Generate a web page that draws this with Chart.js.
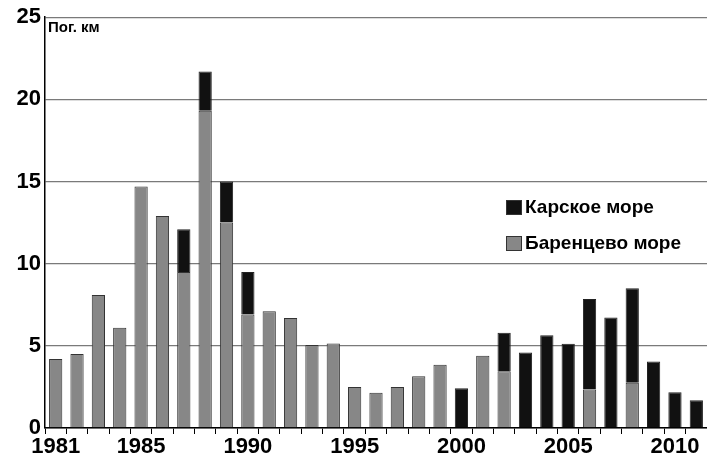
<!DOCTYPE html>
<html>
<head>
<meta charset="utf-8">
<script src="https://cdn.jsdelivr.net/npm/chart.js@4"></script>
<style>
  html, body { margin: 0; padding: 0; background: #fff; }
  #wrap { width: 707px; height: 455px; }
</style>
</head>
<body>
<div id="wrap"><canvas id="seaChart"></canvas></div>
<script>
const years = [];
for (let y = 1981; y <= 2011; y++) years.push(String(y));

const shownYears = ["1981", "1985", "1990", "1995", "2000", "2005", "2010"];

const barentsSea = [4.2, 4.5, 8.1, 6.1, 14.7, 12.9, 9.5, 19.3, 12.5, 6.9,
  7.1, 6.7, 5.05, 5.15, 2.5, 2.15, 2.5, 3.15, 3.85, null,
  4.4, 3.45, null, null, null, 2.35, null, 2.75, null, null, null];

const karaSea = [null, null, null, null, null, null, 2.6, 2.4, 2.5, 2.6,
  null, null, null, null, null, null, null, null, null, 2.42,
  null, 2.35, 4.6, 5.65, 5.12, 5.5, 6.73, 5.75, 4.05, 2.17, 1.69];

const yTicks = [0, 5, 10, 15, 20, 25];

const font = "'Liberation Sans', Arial, sans-serif";

// legend drawn by hand so it can sit inside the plot
const legendBox = {
  id: "legendBox",
  afterDraw(chart) {
    const ctx = chart.ctx;
    const items = [chart.data.datasets[1], chart.data.datasets[0]];
    ctx.save();
    ctx.fillStyle = "#fff";
    ctx.fillRect(500, 187, 206, 74);
    ctx.font = "bold 19px " + font;
    ctx.textBaseline = "middle";
    items.forEach((ds, i) => {
      const yy = 207 + i * 36;
      ctx.fillStyle = ds.backgroundColor;
      ctx.strokeStyle = "#333";
      ctx.lineWidth = 1;
      ctx.fillRect(506, yy - 7, 16, 15);
      ctx.strokeRect(506.5, yy - 6.5, 15, 14);
      ctx.fillStyle = "#000";
      ctx.fillText(ds.label, 525, yy + 1);
    });
    ctx.restore();
  }
};

// "Пог. км" unit label in the corner of the plot
const unitLabel = {
  id: "unitLabel",
  afterDraw(chart) {
    const ctx = chart.ctx;
    ctx.save();
    ctx.font = "bold 15px " + font;
    ctx.fillStyle = "#000";
    ctx.textBaseline = "middle";
    ctx.fillText("Пог. км", 48, 28);
    ctx.restore();
  }
};

new Chart(document.getElementById("seaChart"), {
  type: "bar",
  data: {
    labels: years,
    datasets: [
      {
        label: "Баренцево море",
        data: barentsSea,
        backgroundColor: "#878787",
        borderColor: "#333",
        borderWidth: 1,
        barPercentage: 0.62,
        categoryPercentage: 1
      },
      {
        label: "Карское море",
        data: karaSea,
        backgroundColor: "#111",
        borderColor: "#222",
        borderWidth: 1,
        barPercentage: 0.62,
        categoryPercentage: 1
      }
    ]
  },
  options: {
    responsive: true,
    maintainAspectRatio: false,
    animation: false,
    layout: { padding: { top: 8, right: 0, left: 0, bottom: 0 } },
    plugins: {
      legend: { display: false },
      tooltip: { enabled: false }
    },
    scales: {
      x: {
        stacked: true,
        afterFit: (scale) => { scale.height = 27; },
        border: { display: true, color: "#000", width: 1.5 },
        grid: {
          offset: true,
          drawOnChartArea: false,
          drawTicks: true,
          tickLength: 6,
          color: "#000"
        },
        ticks: {
          autoSkip: false,
          maxRotation: 0,
          padding: 0,
          color: "#000",
          font: { family: font, size: 22, weight: "bold" },
          callback: function (value) {
            const lab = this.getLabelForValue(value);
            return shownYears.includes(lab) ? lab : "";
          }
        }
      },
      y: {
        stacked: true,
        min: 0,
        max: 25,
        afterFit: (scale) => { scale.width = 45; },
        afterBuildTicks: (scale) => { scale.ticks = yTicks.map((v) => ({ value: v })); },
        border: { display: true, color: "#000", width: 1.5 },
        grid: {
          drawTicks: false,
          color: "#7a7a7a",
          lineWidth: 1.3
        },
        ticks: {
          padding: 4,
          color: "#000",
          font: { family: font, size: 22, weight: "bold" }
        }
      }
    }
  },
  plugins: [legendBox, unitLabel]
});
</script>
</body>
</html>
